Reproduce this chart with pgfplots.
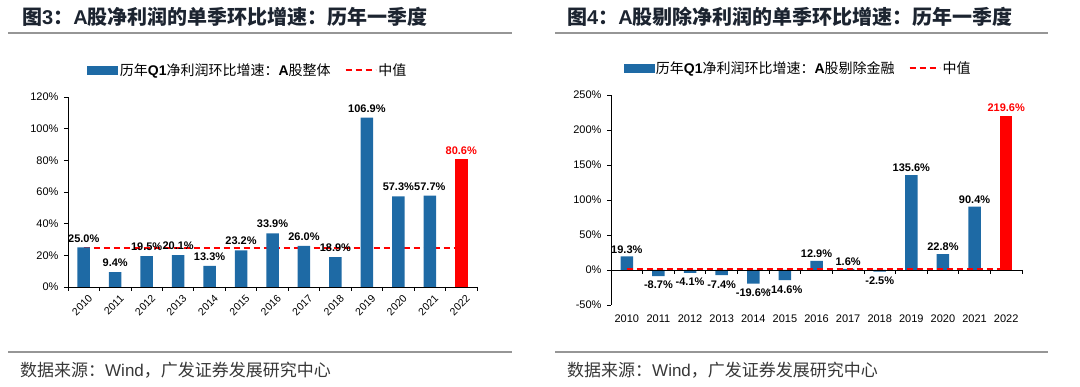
\documentclass[border=0pt]{standalone}
\usepackage{pgfplots}
\pgfplotsset{compat=1.18}
\usepackage{fontspec}
\setmainfont{Liberation Sans}
\newfontfamily\cjk{Noto Sans CJK SC}
\definecolor{barblue}{RGB}{30,106,165}
\definecolor{titlecol}{RGB}{28,36,48}
\definecolor{rulegray}{RGB}{150,150,150}
\definecolor{srccol}{RGB}{55,55,55}

\pgfplotsset{
  mybars/.style={
    scale only axis,
    enlargelimits=false,
    clip=false,
    xmin=-0.5, xmax=12.5,
    xtick={0,...,12},
    xticklabels={2010,2011,2012,2013,2014,2015,2016,2017,2018,2019,2020,2021,2022},
    major x tick style={draw=none},
    axis x line*=bottom,
    axis y line*=left,
    axis line style={black, line width=0.8pt, -},
    x axis line style={draw=none},
    tick align=outside,
    major tick length=4pt,
    ytick style={black, line width=0.8pt},
    /pgf/number format/assume math mode=true,
    tick label style={font=\fontsize{11}{11}\selectfont, text=black},
    yticklabel={\pgfmathprintnumber{\tick}\%},
    yticklabel style={xshift=-2pt},
    legend style={draw=none, fill=none, anchor=center, legend columns=2,
      font=\fontsize{14}{14}\selectfont,
      /tikz/every even column/.append style={column sep=12pt}},
    legend cell align=left,
  },
  barsty/.style={ybar, bar width=12.5pt, bar shift=0pt, draw=none, forget plot,
    nodes near coords={\pgfmathprintnumber[fixed,fixed zerofill,precision=1]{\pgfplotspointmeta}\%},
    every node near coord/.append style={font=\bfseries\fontsize{11}{11}\selectfont, inner sep=2pt, text=black}},
}

\begin{document}
\begin{tikzpicture}[x=1pt,y=1pt]
\useasboundingbox (0,0) rectangle (1080,-387);

% titles
\node[anchor=west, inner sep=0, text=titlecol, font=\bfseries\fontsize{20}{20}\selectfont] at (22,-17)
  {{\cjk 图}3{\cjk ：}A{\cjk 股净利润的单季环比增速：历年一季度}};
\node[anchor=west, inner sep=0, text=titlecol, font=\bfseries\fontsize{20}{20}\selectfont] at (567,-17)
  {{\cjk 图}4{\cjk ：}A{\cjk 股剔除净利润的单季环比增速：历年一季度}};
\draw[rulegray, line width=1.3pt] (8,-33) -- (512,-33);
\draw[rulegray, line width=1.3pt] (555,-33) -- (1048,-33);
\draw[rulegray, line width=1.3pt] (8,-352) -- (512,-352);
\draw[rulegray, line width=1.3pt] (555,-352) -- (1048,-352);
\node[anchor=west, inner sep=0, text=srccol, font=\fontsize{17}{17}\selectfont] at (20,-370)
  {{\cjk 数据来源：}Wind{\cjk ，广发证券发展研究中心}};
\node[anchor=west, inner sep=0, text=srccol, font=\fontsize{17}{17}\selectfont] at (567,-370)
  {{\cjk 数据来源：}Wind{\cjk ，广发证券发展研究中心}};

% left chart
\begin{axis}[mybars,
  at={(68pt,-287pt)}, anchor=south west,
  width=409pt, height=190pt,
  ymin=0, ymax=120, ytick={0,20,...,120},
  xticklabel style={rotate=45, anchor=east, xshift=4pt, yshift=-9pt, font=\fontsize{10.5}{10.5}\selectfont},
  legend style={at={(0.44,1.142)}},
]
\addlegendimage{legend image code/.code={\fill[barblue] (0pt,-4pt) rectangle (30pt,4pt);}}
\addlegendentry{{\cjk 历年}\textbf{Q1}{\cjk 净利润环比增速：}\textbf{A}{\cjk 股整体}}
\addlegendimage{legend image code/.code={\draw[red, line width=1.8pt, dash pattern=on 6pt off 4pt] (0pt,0pt) -- (30pt,0pt);}}
\addlegendentry{{\cjk 中值}}

\addplot[red, line width=1.8pt, dash pattern=on 6pt off 4pt, forget plot] coordinates {(0,24.6) (12,24.6)};
\addplot[barsty, fill=barblue, every node near coord/.append style={yshift=3pt}] coordinates {
(0,25.0) (1,9.4) (2,19.5) (3,20.1) (4,13.3) (5,23.2) (6,33.9) (7,26.0) (8,18.9) (9,106.9) (10,57.3) (11,57.7)};
\addplot[barsty, fill=red, every node near coord/.append style={text=red, yshift=3pt}] coordinates {(12,80.6)};

\draw[black, line width=0.8pt] (axis cs:-0.5,0) -- (axis cs:12.5,0);
\pgfplotsinvokeforeach{-0.5,0.5,1.5,2.5,3.5,4.5,5.5,6.5,7.5,8.5,9.5,10.5,11.5,12.5}{
  \draw[black, line width=0.8pt] (axis cs:#1,0) -- ++(0pt,-4pt);}
\end{axis}

% right chart
\begin{axis}[mybars,
  at={(611pt,-305pt)}, anchor=south west,
  width=411pt, height=210pt,
  ymin=-50, ymax=250, ytick={-50,0,...,250},
  xticklabel style={yshift=-2pt},
  legend style={at={(0.455,1.129)}},
]
\addlegendimage{legend image code/.code={\fill[barblue] (0pt,-4pt) rectangle (30pt,4pt);}}
\addlegendentry{{\cjk 历年}\textbf{Q1}{\cjk 净利润环比增速：}\textbf{A}{\cjk 股剔除金融}}
\addlegendimage{legend image code/.code={\draw[red, line width=1.8pt, dash pattern=on 6pt off 4pt] (0pt,0pt) -- (30pt,0pt);}}
\addlegendentry{{\cjk 中值}}

\addplot[barsty, fill=barblue, every node near coord/.append style={yshift=1pt}] coordinates {
(0,19.3) (6,12.9) (7,1.6) (9,135.6) (10,22.8) (11,90.4)};
\addplot[barsty, fill=barblue, every node near coord/.append style={yshift=-3pt}] coordinates {
(1,-8.7) (2,-4.1) (3,-7.4) (4,-19.6) (5,-14.6) (8,-2.5)};
\addplot[barsty, fill=red, every node near coord/.append style={text=red, yshift=2pt}] coordinates {(12,219.6)};

\draw[black, line width=0.8pt] (axis cs:-0.5,0) -- (axis cs:12.5,0);
\pgfplotsinvokeforeach{-0.5,0.5,1.5,2.5,3.5,4.5,5.5,6.5,7.5,8.5,9.5,10.5,11.5,12.5}{
  \draw[black, line width=0.8pt] (axis cs:#1,0) -- ++(0pt,-4pt);}
\addplot[red, line width=1.8pt, dash pattern=on 6pt off 4pt, forget plot] coordinates {(0,1.0) (12,1.0)};
\end{axis}
\end{tikzpicture}
\end{document}
